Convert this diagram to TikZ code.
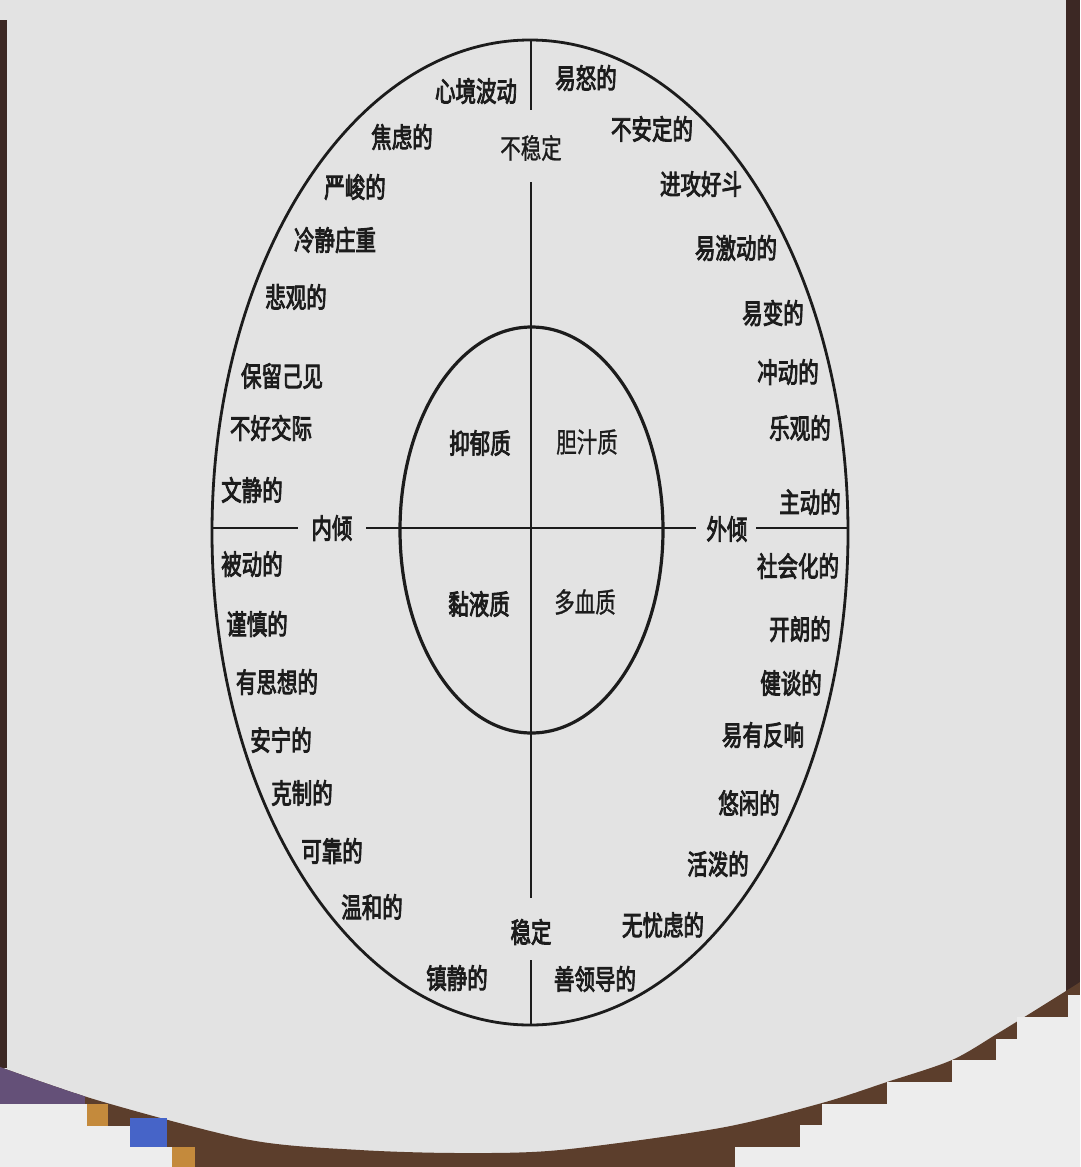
\documentclass[tikz,border=0pt]{standalone}
\usepackage{fontspec}
\usepackage{graphicx}
\newfontfamily\cjk[FakeBold=1]{Noto Sans CJK SC}
\newfontfamily\cjkb[FakeBold=3.5]{Noto Sans CJK SC}
\usetikzlibrary{shapes.geometric}
\definecolor{page}{RGB}{227,227,227}
\definecolor{ink}{RGB}{28,28,28}
\definecolor{bark}{RGB}{92,62,44}
\definecolor{darkedge}{RGB}{60,40,36}
\definecolor{steps}{RGB}{237,237,237}
\definecolor{orangeblk}{RGB}{196,138,60}
\definecolor{blueblk}{RGB}{70,100,200}
\definecolor{purpblk}{RGB}{100,80,120}
\newcommand\talltxt[1]{\scalebox{1}[1.35]{#1}}
\begin{document}
\begin{tikzpicture}[x=1pt,y=-1pt,
  lb/.style={inner sep=0pt, text=ink, font=\cjkb\fontsize{20.5}{24}\selectfont},
  lt/.style={inner sep=0pt, text=ink, font=\cjk\fontsize{20.5}{24}\selectfont},
  axisline/.style={draw=ink, line width=2.2pt}]
\useasboundingbox (0,0) rectangle (1080,1167);
% photo background
\fill[page] (0,0) rectangle (1080,1167);
\fill[darkedge] (1066,0) rectangle (1080,1000);
\fill[darkedge] (0,20) rectangle (7,1068);
\begin{scope}
\clip plot[smooth] coordinates {(0,1067) (100,1101) (250,1140) (360,1150) (460,1153) (560,1150) (720,1128) (822,1103) (887,1082) (952,1060) (1000,1032) (1066,991) (1080,982)} -- (1080,1167) -- (0,1167) -- cycle;
\fill[bark] (0,900) rectangle (1080,1167);
\fill[purpblk] (0,1060) rectangle (85,1104);
\end{scope}
\fill[steps] (0,1167) -- (0,1104) -- (87,1104) -- (87,1126) -- (130,1126) -- (130,1147) -- (172,1147) -- (172,1167) -- cycle;
\fill[orangeblk] (87,1104) rectangle (108,1126);
\fill[blueblk] (130,1118) rectangle (167,1147);
\fill[orangeblk] (172,1147) rectangle (195,1167);
\fill[steps] (735,1167) -- (735,1147) -- (800,1147) -- (800,1125) -- (822,1125) -- (822,1104) -- (887,1104) -- (887,1082) -- (952,1082) -- (952,1060) -- (996,1060) -- (996,1039) -- (1017,1039) -- (1017,1017) -- (1068,1017) -- (1068,995) -- (1080,995) -- (1080,1167) -- cycle;

% ellipses
\node[draw=ink, ellipse, line width=2.8pt, minimum width=636pt, minimum height=985pt, inner sep=0pt] (outer) at (530,532.5) {};
\node[draw=ink, ellipse, line width=3.2pt, minimum width=263pt, minimum height=406pt, inner sep=0pt] (inner) at (531.5,530) {};

% axis labels
\node[lt] (unstable) at (531,148) {\talltxt{不稳定}};
\node[lb] (stable) at (531,932) {\talltxt{稳定}};
\node[lb] (intro) at (332,528) {\talltxt{内倾}};
\node[lb] (extro) at (727,529) {\talltxt{外倾}};

\coordinate (vA) at (531,40);
\coordinate (vB) at (531,110);
\coordinate (vC) at (531,182);
\coordinate (vD) at (531,898);
\coordinate (vE) at (531,960);
\coordinate (vF) at (531,1025);
\coordinate (hA) at (212,528);
\coordinate (hB) at (298,528);
\coordinate (hC) at (366,528);
\coordinate (hD) at (696,528);
\coordinate (hE) at (756,528);
\coordinate (hF) at (848,528);
\draw[axisline] (vA) -- (vB);
\draw[axisline] (vC) -- (vD);
\draw[axisline] (vE) -- (vF);
\draw[axisline] (hA) -- (hB);
\draw[axisline] (hC) -- (hD);
\draw[axisline] (hE) -- (hF);

% temperaments
\node[lb] (melan) at (480,443) {\talltxt{抑郁质}};
\node[lt] (chol) at (587,442) {\talltxt{胆汁质}};
\node[lb] (phleg) at (479,604) {\talltxt{黏液质}};
\node[lt] (sang) at (585,602) {\talltxt{多血质}};

% left side
\node[lb] (l1) at (476,91) {\talltxt{心境波动}};
\node[lb] (l2) at (402,137) {\talltxt{焦虑的}};
\node[lb] (l3) at (355,187) {\talltxt{严峻的}};
\node[lb] (l4) at (335,240) {\talltxt{冷静庄重}};
\node[lb] (l5) at (296,297) {\talltxt{悲观的}};
\node[lb] (l6) at (282,376) {\talltxt{保留己见}};
\node[lb] (l7) at (271,428) {\talltxt{不好交际}};
\node[lb] (l8) at (252,490) {\talltxt{文静的}};
\node[lb] (l9) at (252,564) {\talltxt{被动的}};
\node[lb] (l10) at (257,624) {\talltxt{谨慎的}};
\node[lb] (l11) at (277,682) {\talltxt{有思想的}};
\node[lb] (l12) at (281,740) {\talltxt{安宁的}};
\node[lb] (l13) at (302,793) {\talltxt{克制的}};
\node[lb] (l14) at (332,851) {\talltxt{可靠的}};
\node[lb] (l15) at (372,907) {\talltxt{温和的}};
\node[lb] (l16) at (457,978) {\talltxt{镇静的}};

% right side
\node[lb] (r1) at (586,78) {\talltxt{易怒的}};
\node[lb] (r2) at (652,129) {\talltxt{不安定的}};
\node[lb] (r3) at (701,184) {\talltxt{进攻好斗}};
\node[lb] (r4) at (736,248) {\talltxt{易激动的}};
\node[lb] (r5) at (773,313) {\talltxt{易变的}};
\node[lb] (r6) at (788,372) {\talltxt{冲动的}};
\node[lb] (r7) at (800,428) {\talltxt{乐观的}};
\node[lb] (r8) at (810,502) {\talltxt{主动的}};
\node[lb] (r9) at (798,566) {\talltxt{社会化的}};
\node[lb] (r10) at (800,629) {\talltxt{开朗的}};
\node[lb] (r11) at (791,683) {\talltxt{健谈的}};
\node[lb] (r12) at (763,735) {\talltxt{易有反响}};
\node[lb] (r13) at (749,803) {\talltxt{悠闲的}};
\node[lb] (r14) at (718,864) {\talltxt{活泼的}};
\node[lb] (r15) at (663,925) {\talltxt{无忧虑的}};
\node[lb] (r16) at (595,979) {\talltxt{善领导的}};
\end{tikzpicture}
\end{document}
